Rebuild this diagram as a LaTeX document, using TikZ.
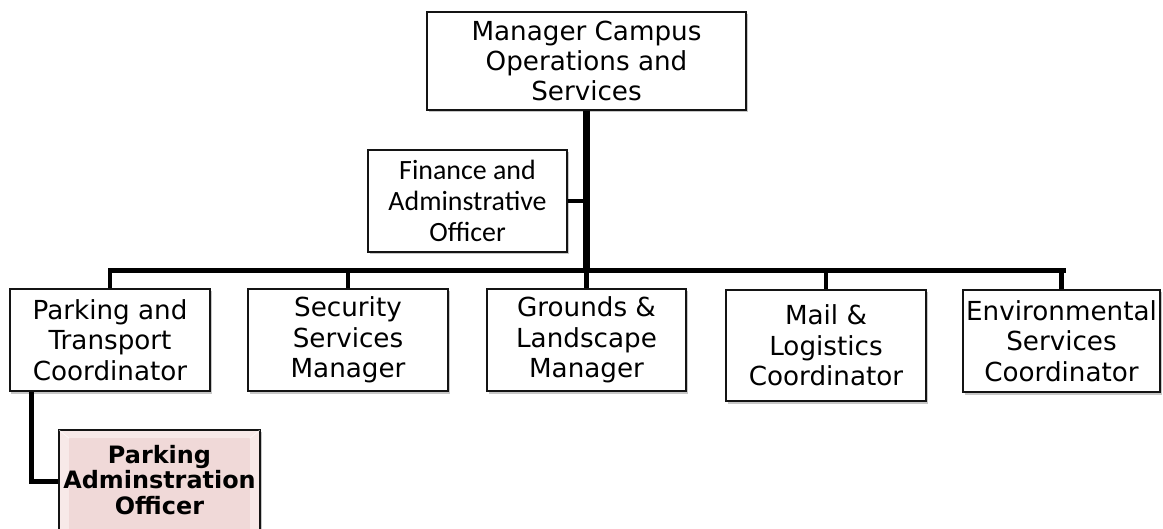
\documentclass[tikz,border=0pt]{standalone}
\usepackage{fontspec}
\setmainfont{DejaVu Sans}
\newfontfamily\calib{Carlito}
\usetikzlibrary{shadows}
\definecolor{boxline}{RGB}{20,20,20}
\definecolor{pinkout}{RGB}{247,233,232}
\definecolor{pinkin}{RGB}{240,217,216}
\begin{document}
\begin{tikzpicture}[x=1bp,y=-1bp,
  orgbox/.style={draw=boxline, line width=1.3bp, fill=white, inner sep=0pt,
    align=center, font=\fontsize{26.3}{30.5}\selectfont,
    drop shadow={shadow xshift=1.5bp, shadow yshift=-2.5bp, fill=black, opacity=0.22}},
  finbox/.style={orgbox, font=\calib\fontsize{28}{31}\selectfont},
  trunk/.style={line width=6.5bp},
  bus/.style={line width=5bp, line cap=rect},
  drop/.style={line width=4.5bp},
  link/.style={line width=5bp, line join=miter}]
\useasboundingbox (0,0) rectangle (1163,529);

% top manager
\node[orgbox, minimum width=319bp, minimum height=98bp] (top) at (586.5,61)
  {Manager Campus\\Operations and\\Services};

% staff officer beside the trunk
\node[finbox, minimum width=199bp, minimum height=102bp] (fin) at (467.5,201)
  {Finance and\\Adminstrative\\Officer};

% second level
\node[orgbox, minimum width=200bp, minimum height=102bp] (b1) at (110,340)
  {Parking and\\Transport\\Coordinator};
\node[orgbox, minimum width=200bp, minimum height=102bp] (b2) at (348,340)
  {Security\\Services\\Manager};
\node[orgbox, minimum width=199bp, minimum height=102bp] (b3) at (586.5,340)
  {Grounds \&\\Landscape\\Manager};
\node[orgbox, minimum width=200bp, minimum height=111bp] (b4) at (826,345.5)
  {Mail \&\\Logistics\\Coordinator};
\node[orgbox, minimum width=197bp, minimum height=102bp] (b5) at (1061.5,341)
  {Environmental\\Services\\Coordinator};

% highlighted officer box with bevelled fill
\node[draw=boxline, line width=1.3bp, fill=pinkout, inner sep=0pt,
  minimum width=201bp, minimum height=112bp,
  drop shadow={shadow xshift=1.5bp, shadow yshift=-2.5bp, fill=black, opacity=0.22}]
  (admin) at (159.5,486) {};
\fill[pinkin] ([xshift=11bp,yshift=-9bp]admin.north west) rectangle ([xshift=-11bp,yshift=9bp]admin.south east);
\draw[white, opacity=0.6, line width=0.8bp]
  ([xshift=1bp,yshift=-1bp]admin.north west) -- ([xshift=11bp,yshift=-9bp]admin.north west)
  ([xshift=-1bp,yshift=-1bp]admin.north east) -- ([xshift=-11bp,yshift=-9bp]admin.north east);
\draw[boxline, line width=1.3bp] (admin.north west) rectangle (admin.south east);
\node[align=center, inner sep=0pt, font=\fontsize{24}{26}\selectfont\bfseries]
  (admintext) at (159.5,480) {Parking\\Adminstration\\Officer};

% connectors
\coordinate (busL) at (110,271);
\coordinate (busR) at (1063,271);
\coordinate (elbow) at (31,481);

\draw[trunk] (top.south) -- (top.south |- busL);
\draw[drop] (fin.east) -- (fin.east -| top.south);
\draw[bus] (busL) -- (busR);
\draw[drop] (b1.north) -- (b1.north |- busL);
\draw[drop] (b2.north) -- (b2.north |- busL);
\draw[drop] (b3.north) -- (b3.north |- busL);
\draw[drop] (b4.north) -- (b4.north |- busL);
\draw[drop] (b5.north) -- (b5.north |- busL);
\draw[link] (b1.south -| elbow) -- (elbow) -- (admin.west |- elbow);
\end{tikzpicture}
\end{document}
